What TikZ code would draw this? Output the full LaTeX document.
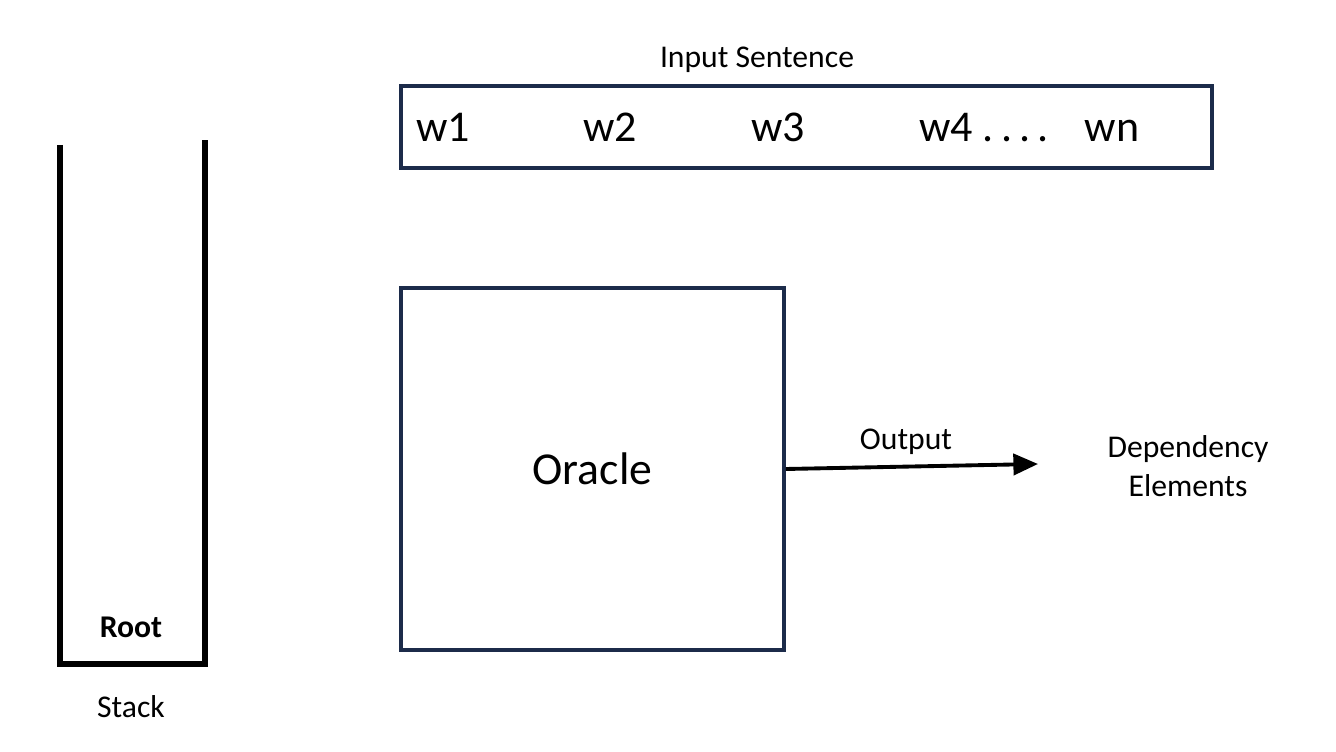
\documentclass[tikz,border=0pt]{standalone}
\usepackage{fontspec}
\setmainfont{Carlito}
\usetikzlibrary{arrows.meta}
\definecolor{navy}{HTML}{1C2B4A}

\begin{document}
\begin{tikzpicture}[x=0.01cm, y=-0.01cm, every node/.style={font=\fontsize{9}{11}\selectfont},
    box/.style={draw=navy, line width=1.1pt},
    word/.style={anchor=base, font=\fontsize{12.5}{14}\selectfont}]
            \useasboundingbox (0,0) rectangle (1336,752);
            \draw[line width=1.7pt] (60,145) -- (60,664) -- (205,664) -- (205,140);
            \node[anchor=base] (root) at (131,637) {\textbf{Root}};
            \node[anchor=base] (stack) at (131,717) {Stack};
            \draw[box] (401,86) rectangle (1212,168);
            \node[anchor=base] (input) at (757,68) {Input Sentence};
            \node[word] (w1) at (443,142) {w1};
            \node[word] (w2) at (610,142) {w2};
            \node[word] (w3) at (778,142) {w3};
            \node[word] (w4) at (984,142) {w4 .\,.\,.\,.};
            \node[word] (wn) at (1112,142) {wn};
            \node[box, minimum width=383*0.01cm, minimum height=362*0.01cm,
                  font=\fontsize{13}{15}\selectfont] (oracle) at (592.5,469) {Oracle};
            \coordinate (out) at (1038,464);
            \draw[-{Triangle[length=7pt,width=6pt]}, line width=1.1pt] (oracle.east) -- (out);
            \node[anchor=base] (outlbl) at (906,450) {Output};
            \node[align=center] (dep) at (1188,466) {Dependency\\Elements};
        \end{tikzpicture}
\end{document}
